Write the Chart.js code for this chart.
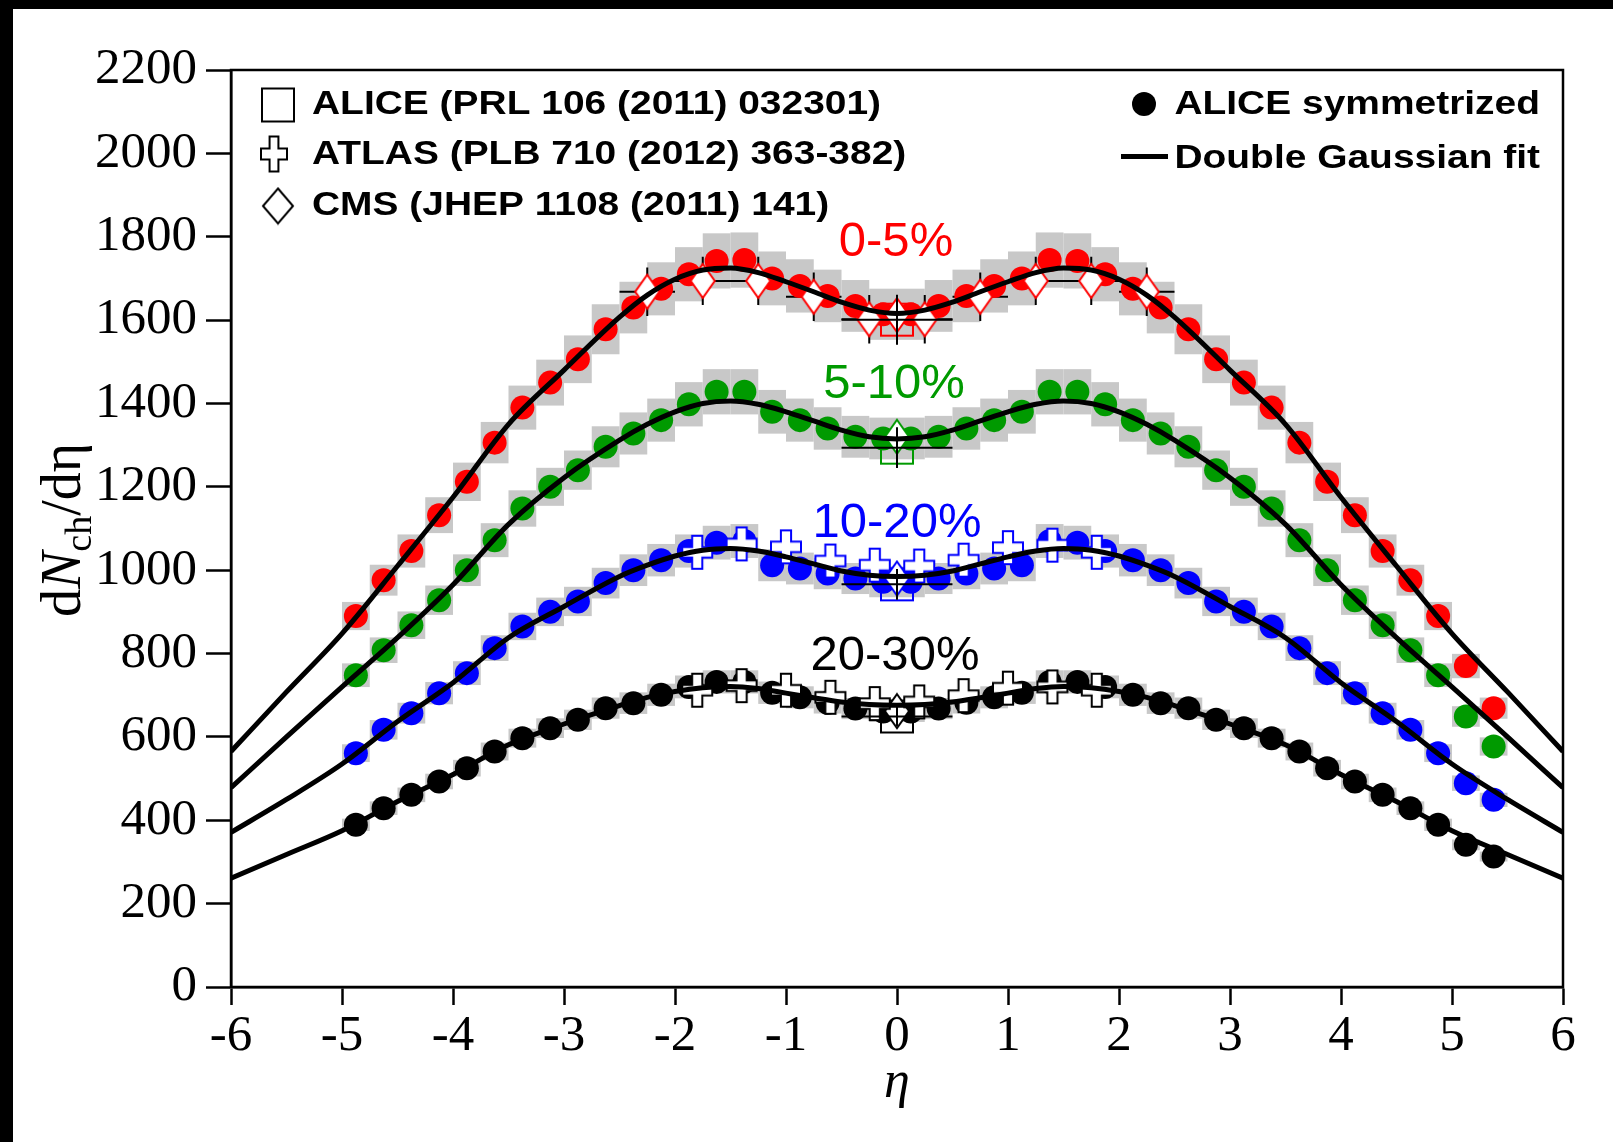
<!DOCTYPE html>
<html>
<head>
<meta charset="utf-8">
<script src="https://cdn.jsdelivr.net/npm/chart.js@4.4.1/dist/chart.umd.min.js"></script>
<style>
html, body { margin: 0; padding: 0; background: #fff; }
canvas { display: block; }
</style>
</head>
<body>
<canvas id="grafico" width="1613" height="1142"></canvas>
<script>
// ALICE symmetrized, dNch/deta vs eta
const aliceEta = [-4.875,-4.625,-4.375,-4.125,-3.875,-3.625,-3.375,-3.125,-2.875,-2.625,-2.375,-2.125,-1.875,-1.625,-1.375,-1.125,-0.875,-0.625,-0.375,-0.125,
  0.125,0.375,0.625,0.875,1.125,1.375,1.625,1.875,2.125,2.375,2.625,2.875,3.125,3.375,3.625,3.875,4.125,4.375,4.625,4.875,5.125,5.375];
const alice05 = [890,976,1046,1132,1212,1306,1390,1450,1506,1578,1630,1675,1710,1742,1744,1700,1682,1658,1634,1614,
  1614,1634,1658,1682,1700,1744,1742,1710,1675,1630,1578,1506,1450,1390,1306,1212,1132,1046,976,890,770,669];
const alice510 = [748,808,868,928,1000,1072,1148,1200,1240,1296,1328,1360,1398,1428,1428,1380,1360,1340,1320,1316,
  1316,1320,1340,1360,1380,1428,1428,1398,1360,1328,1296,1240,1200,1148,1072,1000,928,868,808,748,649,577];
const alice1020 = [561,617,657,705,753,813,865,900,925,969,1000,1024,1046,1066,1070,1012,1004,992,980,972,
  972,980,992,1004,1012,1070,1066,1046,1024,1000,969,925,900,865,813,753,705,657,617,561,489,449];
const alice2030 = [389,429,461,493,525,565,597,621,641,669,681,701,720,732,732,706,695,682,668,661,
  661,668,682,695,706,732,732,720,701,681,669,641,621,597,565,525,493,461,429,389,341,313];
const sysFrac = 0.038;   // grey boxes
const binHalf = 0.125;

// double gaussian fit curves
const fitEta = [-6,-5.5,-5,-4.5,-4,-3.5,-3,-2.5,-2.25,-2,-1.75,-1.5,-1.25,-1,-0.75,-0.5,-0.25,0,
  0.25,0.5,0.75,1,1.25,1.5,1.75,2,2.25,2.5,3,3.5,4,4.5,5,5.5,6];
const fit05 = [565,708,848,1010,1175,1350,1480,1607,1660,1698,1720,1725,1714,1692,1668,1643,1624,1616,
  1624,1643,1668,1692,1714,1725,1720,1698,1660,1607,1480,1350,1175,1010,848,708,565];
const fit510 = [478,600,720,838,965,1110,1222,1312,1350,1380,1400,1406,1398,1380,1358,1336,1320,1315,
  1320,1336,1358,1380,1398,1406,1400,1380,1350,1312,1222,1110,965,838,720,600,478];
const fit1020 = [371,450,535,637,730,838,913,985,1012,1034,1048,1052,1046,1032,1015,998,988,985,
  988,998,1015,1032,1046,1052,1048,1034,1012,985,913,838,730,637,535,450,371];
const fit2030 = [261,318,375,445,510,581,631,675,695,709,718,721,716,705,694,684,678,676,
  678,684,694,705,716,721,718,709,695,675,631,581,510,445,375,318,261];

// ALICE PRL 106 (2011) 032301, |eta|<0.5
const prlVals = [1601,1294,966,649];
const prlErr = [60,49,37,23];
const prlHalf = 0.5;

// CMS JHEP 1108 (2011) 141
const cmsEta = [-2.25,-1.75,-1.25,-0.75,-0.25,0.25,0.75,1.25,1.75,2.25];
const cms05 = [1668,1694,1694,1656,1602,1602,1656,1694,1694,1668];
const cmsErr = 58;
const cmsMid = [1612,1320,980,662];

// ATLAS PLB 710 (2012) 363-382
const atlasEta = [-1.8,-1.4,-1.0,-0.6,-0.2,0.2,0.6,1.0,1.4,1.8];
const atlas1020 = [1043,1063,1056,1022,1012,1010,1024,1054,1060,1043];
const atlas2030 = [712,723,712,695,680,684,699,717,720,712];

const centLabels = ['0-5%','5-10%','10-20%','20-30%'];
const colors = ['#ff0000','#009a00','#0000ff','#000000'];

const serif = '"Liberation Serif", "Times New Roman", serif';
const sans = '"Liberation Sans", Arial, sans-serif';

function marker(kind, w, h, stroke, fill, lw) {
  const pad = Math.ceil(lw);
  const c = document.createElement('canvas');
  c.width = w + 2 * pad; c.height = h + 2 * pad;
  const g = c.getContext('2d');
  g.translate(pad, pad);
  g.beginPath();
  if (kind === 'square') {
    g.rect(0, 0, w, h);
  } else if (kind === 'diamond') {
    g.moveTo(w / 2, 0); g.lineTo(w, h / 2); g.lineTo(w / 2, h); g.lineTo(0, h / 2); g.closePath();
  } else {
    const a = w * 0.34, b = h * 0.32;
    const x1 = (w - a) / 2, x2 = (w + a) / 2, y1 = (h - b) / 2, y2 = (h + b) / 2;
    g.moveTo(x1, 0); g.lineTo(x2, 0); g.lineTo(x2, y1); g.lineTo(w, y1); g.lineTo(w, y2); g.lineTo(x2, y2);
    g.lineTo(x2, h); g.lineTo(x1, h); g.lineTo(x1, y2); g.lineTo(0, y2); g.lineTo(0, y1); g.lineTo(x1, y1); g.closePath();
  }
  if (fill) { g.fillStyle = fill; g.fill(); }
  g.lineWidth = lw; g.strokeStyle = stroke; g.stroke();
  return c;
}

const squares = colors.map(c => marker('square', 32, 32, c, null, 2));
const diamonds = colors.map(c => marker('diamond', 24, 34, c, '#fff', 2));
const crosses = colors.map(c => marker('cross', 30, 33, c, '#fff', 2));
const legSquare = marker('square', 32, 33, '#000', null, 2);
const legCross = marker('cross', 26, 35, '#000', null, 2);
const legDiamond = marker('diamond', 30, 35, '#000', null, 2);

const pts = (xs, ys) => xs.map((x, i) => ({x: x, y: ys[i]}));

const aliceSets = [alice05, alice510, alice1020, alice2030];
const fitSets = [fit05, fit510, fit1020, fit2030];

const datasets = [];
fitSets.forEach(f => datasets.push({
  data: pts(fitEta, f), showLine: true, borderColor: '#000', borderWidth: 5,
  pointRadius: 0, cubicInterpolationMode: 'monotone', order: 1
}));
datasets.push({data: pts(cmsEta, cms05), pointStyle: diamonds[0], order: 2});
datasets.push({data: pts(atlasEta, atlas1020), pointStyle: crosses[2], order: 2});
datasets.push({data: pts(atlasEta, atlas2030), pointStyle: crosses[3], order: 2});
datasets.push({data: pts([0,0,0,0], cmsMid), pointStyle: diamonds, order: 2});
datasets.push({data: pts([0,0,0,0], prlVals), pointStyle: squares, order: 2});
aliceSets.forEach((v, k) => datasets.push({
  data: pts(aliceEta, v), pointStyle: 'circle', pointRadius: 12, pointHoverRadius: 12,
  backgroundColor: colors[k], borderWidth: 0, order: 3
}));

const decor = {
  id: 'decor',
  beforeDraw(chart) {
    const ctx = chart.ctx;
    ctx.save();
    ctx.fillStyle = '#fff';
    ctx.fillRect(0, 0, chart.width, chart.height);
    ctx.fillStyle = '#000';
    ctx.fillRect(0, 0, chart.width, 9);
    ctx.fillRect(0, 0, 13, chart.height);
    ctx.restore();
  },
  beforeDatasetsDraw(chart) {
    const ctx = chart.ctx, xs = chart.scales.x, ys = chart.scales.y;
    const X = v => xs.getPixelForValue(v), Y = v => ys.getPixelForValue(v);
    ctx.save();
    ctx.fillStyle = '#c8c8c8';
    aliceSets.forEach(v => v.forEach((y, i) => {
      const x0 = X(aliceEta[i] - binHalf), x1 = X(aliceEta[i] + binHalf);
      const y0 = Y(y * (1 + sysFrac)), y1 = Y(y * (1 - sysFrac));
      ctx.fillRect(x0, y0, x1 - x0, y1 - y0);
    }));
    // CMS error bars, behind the markers
    ctx.strokeStyle = '#000';
    ctx.lineWidth = 2;
    ctx.beginPath();
    cmsEta.forEach((e, i) => {
      ctx.moveTo(X(e - 0.25), Y(cms05[i])); ctx.lineTo(X(e + 0.25), Y(cms05[i]));
      ctx.moveTo(X(e), Y(cms05[i] - cmsErr)); ctx.lineTo(X(e), Y(cms05[i] + cmsErr));
    });
    ctx.stroke();
    ctx.restore();
  },
  afterDatasetsDraw(chart) {
    const ctx = chart.ctx, xs = chart.scales.x, ys = chart.scales.y, a = chart.chartArea;
    const X = v => xs.getPixelForValue(v), Y = v => ys.getPixelForValue(v);
    ctx.save();
    ctx.strokeStyle = '#000';
    ctx.lineWidth = 2;
    ctx.beginPath();
    prlVals.forEach((v, k) => {
      ctx.moveTo(X(-prlHalf), Y(v)); ctx.lineTo(X(prlHalf), Y(v));
      ctx.moveTo(X(0), Y(v - prlErr[k])); ctx.lineTo(X(0), Y(v + prlErr[k]));
    });
    ctx.stroke();
    // frame
    ctx.lineWidth = 2.5;
    ctx.strokeRect(a.left, a.top, a.right - a.left, a.bottom - a.top);
    ctx.restore();
  },
  afterDraw(chart) {
    const ctx = chart.ctx;
    ctx.save();
    // centrality labels
    ctx.textAlign = 'center';
    ctx.textBaseline = 'alphabetic';
    ctx.font = '49px ' + sans;
    const labPos = [[896, 256], [894, 398], [897, 537], [895, 670]];
    centLabels.forEach((t, k) => {
      ctx.fillStyle = colors[k];
      ctx.fillText(t, labPos[k][0], labPos[k][1]);
    });
    // legend
    ctx.fillStyle = '#000';
    const stretched = (t, x, y, align) => {
      ctx.save();
      ctx.font = 'bold 34px ' + sans;
      const sx = 1.145;
      const w = ctx.measureText(t).width * sx;
      const x0 = align === 'right' ? x - w : x;
      ctx.translate(x0, y);
      ctx.scale(sx, 1);
      ctx.textAlign = 'left';
      ctx.fillText(t, 0, 0);
      ctx.restore();
    };
    const drawImg = (img, cx, cy) => ctx.drawImage(img, cx - img.width / 2, cy - img.height / 2);
    drawImg(legSquare, 278, 105);
    drawImg(legCross, 274, 154);
    drawImg(legDiamond, 278, 206);
    stretched('ALICE (PRL 106 (2011) 032301)', 312, 114);
    stretched('ATLAS (PLB 710 (2012) 363-382)', 312, 164);
    stretched('CMS (JHEP 1108 (2011) 141)', 312, 215);
    ctx.beginPath();
    ctx.arc(1144, 104, 12, 0, Math.PI * 2);
    ctx.fill();
    ctx.fillRect(1121, 154, 47, 5);
    stretched('ALICE symmetrized', 1540, 114, 'right');
    stretched('Double Gaussian fit', 1540, 168, 'right');
    // x title
    ctx.textAlign = 'center';
    ctx.font = 'italic 52px ' + serif;
    ctx.fillText('η', 897, 1097);
    // y title dN_ch/deta
    ctx.translate(80, 530);
    ctx.rotate(-Math.PI / 2);
    const parts = [
      {t: 'd', f: '56px ' + serif, dy: 0},
      {t: 'N', f: 'italic 56px ' + serif, dy: 0},
      {t: 'ch', f: '38px ' + serif, dy: 11},
      {t: '/dη', f: '56px ' + serif, dy: 0}
    ];
    let total = 0;
    parts.forEach(p => { ctx.font = p.f; p.w = ctx.measureText(p.t).width; total += p.w; });
    let x = -total / 2;
    ctx.textAlign = 'left';
    parts.forEach(p => { ctx.font = p.f; ctx.fillText(p.t, x, p.dy); x += p.w; });
    ctx.restore();
  }
};

const tickFont = {family: serif, size: 51};
new Chart(document.getElementById('grafico').getContext('2d'), {
  type: 'scatter',
  data: {datasets: datasets},
  plugins: [decor],
  options: {
    responsive: false,
    animation: false,
    events: [],
    layout: {padding: {top: 70, right: 50, left: 0, bottom: 0}},
    plugins: {legend: {display: false}, tooltip: {enabled: false}},
    scales: {
      x: {
        type: 'linear', min: -6, max: 6,
        ticks: {stepSize: 1, color: '#000', font: tickFont, padding: 1, maxRotation: 0,
          callback: v => String(v)},
        grid: {drawOnChartArea: false, tickLength: 18, tickWidth: 2.5, tickColor: '#000'},
        border: {color: '#000', width: 2.5},
        afterFit: s => { s.height = 155; }
      },
      y: {
        type: 'linear', min: 0, max: 2200,
        ticks: {stepSize: 200, color: '#000', font: tickFont, padding: 9, callback: v => String(v)},
        grid: {drawOnChartArea: false, tickLength: 25, tickWidth: 2.5, tickColor: '#000'},
        border: {color: '#000', width: 2.5},
        afterFit: s => { s.width = 231; }
      }
    }
  }
});
</script>
</body>
</html>
